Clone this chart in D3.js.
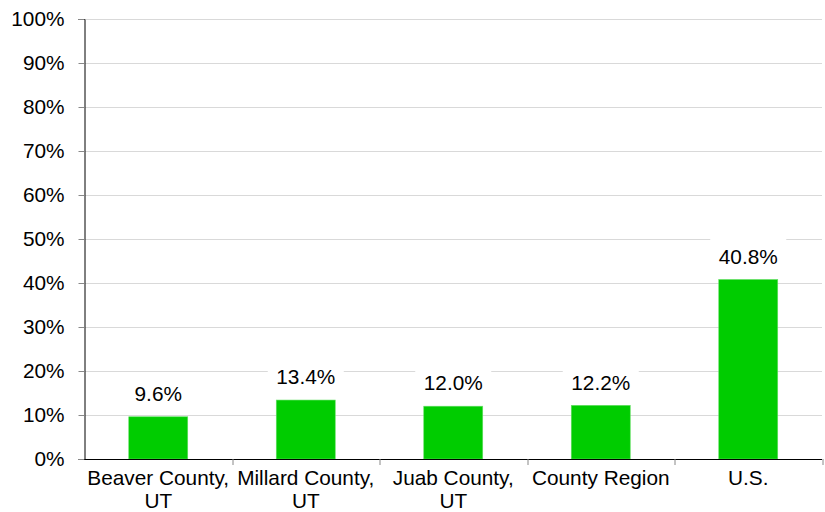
<!DOCTYPE html>
<html lang="en">
<head>
<meta charset="utf-8">
<title>Bar chart</title>
<script src="https://d3js.org/d3.v7.min.js"></script>
<style>
  body { margin: 0; background: #fff; }
  svg text { font-family: "Liberation Sans", Arial, sans-serif; fill: #000; }
</style>
</head>
<body>
<div id="chart"></div>
<script>
// chart data
var categories = [["Beaver County,", "UT"], ["Millard County,", "UT"], ["Juab County,", "UT"], ["County Region"], ["U.S."]];
var values = [9.6, 13.4, 12.0, 12.2, 40.8];
var yTicks = [0, 10, 20, 30, 40, 50, 60, 70, 80, 90, 100];

var W = 825, H = 512;
var margin = {top: 19, right: 3, bottom: 53, left: 84.5};
var width = W - margin.left - margin.right,
    height = H - margin.top - margin.bottom;
var fs = "20.8px";

var svg = d3.select("#chart").append("svg")
    .attr("width", W)
    .attr("height", H);

var g = svg.append("g")
    .attr("transform", "translate(" + margin.left + "," + margin.top + ")");

var x = d3.scaleBand()
    .domain(d3.range(values.length))
    .range([0, width])
    .paddingInner(0.6)
    .paddingOuter(0.3);

var y = d3.scaleLinear()
    .domain([0, 100])
    .range([height, 0]);

// gridlines
g.append("g")
  .selectAll("line")
  .data(yTicks.filter(function(d) { return d > 0; }))
  .enter().append("line")
    .attr("x1", 0)
    .attr("x2", width)
    .attr("y1", function(d) { return Math.round(y(d)) + 0.5; })
    .attr("y2", function(d) { return Math.round(y(d)) + 0.5; })
    .attr("stroke", "#d9d9d9")
    .attr("stroke-width", 1);

// y axis
var yAxis = g.append("g")
  .call(d3.axisLeft(y).tickValues(yTicks).tickSize(6).tickPadding(14)
        .tickFormat(function(d) { return d + "%"; }));
yAxis.select(".domain").attr("stroke", "#000");
yAxis.selectAll(".tick line").attr("stroke", "#888");
yAxis.selectAll("text").style("font-size", fs).attr("fill", "#000");

// bars
g.append("g")
  .selectAll("rect")
  .data(values)
  .enter().append("rect")
    .attr("x", function(d, i) { return x(i); })
    .attr("y", function(d) { return y(d); })
    .attr("width", x.bandwidth())
    .attr("height", function(d) { return height - y(d); })
    .attr("fill", "#00cc00")
    .attr("stroke", "#66e066")
    .attr("stroke-width", 0.6);

// value labels with white boxes
var step = width / values.length;
var labels = g.append("g")
  .selectAll("g")
  .data(values)
  .enter().append("g")
    .attr("transform", function(d, i) {
      return "translate(" + (i * step + step / 2) + "," + (y(d) - 23) + ")";
    });
labels.append("rect")
    .attr("x", -38)
    .attr("y", -18)
    .attr("width", 76)
    .attr("height", 36)
    .attr("fill", "#fff");
labels.append("text")
    .attr("text-anchor", "middle")
    .attr("dy", "0.35em")
    .style("font-size", fs)
    .text(function(d) { return d.toFixed(1) + "%"; });

// x axis
var xb = d3.scaleLinear().domain([0, values.length]).range([0, width]);
var xAxis = g.append("g")
  .attr("transform", "translate(0," + height + ")");
xAxis.append("line")
    .attr("x1", 0).attr("x2", width)
    .attr("y1", 0.5).attr("y2", 0.5)
    .attr("stroke", "#000");
xAxis.selectAll("line.tk")
  .data(d3.range(1, values.length + 1))
  .enter().append("line")
    .attr("class", "tk")
    .attr("x1", function(d) { return Math.round(xb(d)) + 0.5; })
    .attr("x2", function(d) { return Math.round(xb(d)) + 0.5; })
    .attr("y1", 0)
    .attr("y2", 6)
    .attr("stroke", "#888");
var xl = xAxis.selectAll("text")
  .data(categories)
  .enter().append("text")
    .attr("text-anchor", "middle")
    .attr("x", function(d, i) { return xb(i + 0.5); })
    .attr("y", 26)
    .style("font-size", fs);
xl.selectAll("tspan")
  .data(function(d) { return d; })
  .enter().append("tspan")
    .attr("x", function() { return d3.select(this.parentNode).attr("x"); })
    .attr("dy", function(d, i) { return i === 0 ? 0 : 22.5; })
    .text(function(d) { return d; });
</script>
</body>
</html>
